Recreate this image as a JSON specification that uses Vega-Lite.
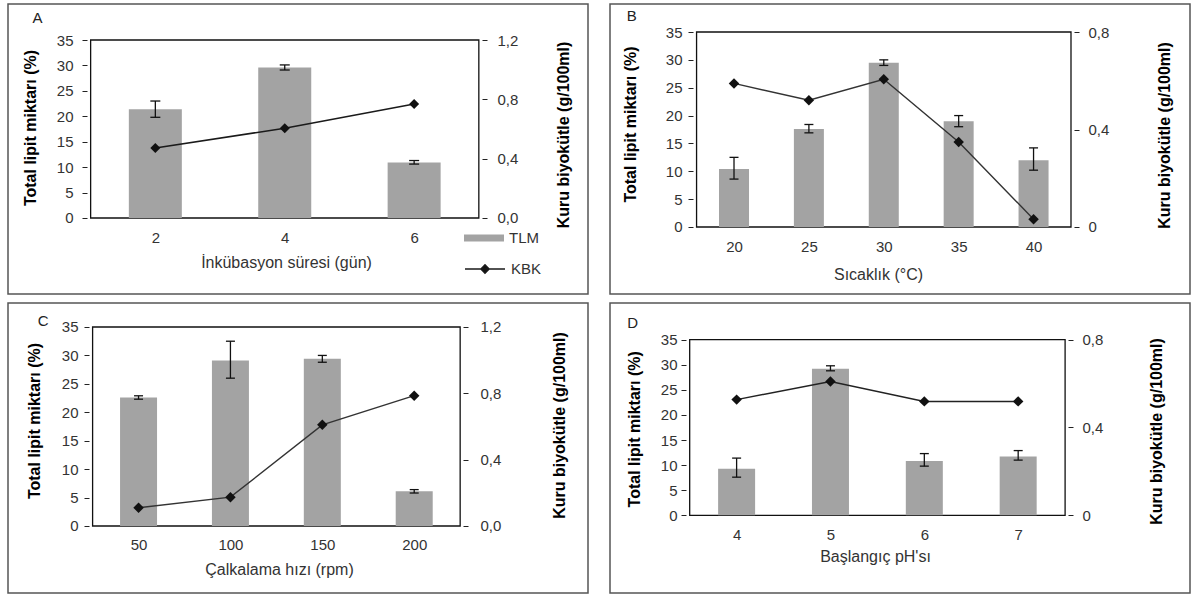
{
  "$schema": "https://vega.github.io/schema/vega-lite/v6.json",
  "padding": {"left": 7, "top": 3, "right": 0, "bottom": 0},
  "background": "white",
  "columns": 2,
  "spacing": {"row": 9, "column": 22},
  "bounds": "flush",
  "config": {
    "font": "Liberation Sans",
    "view": {"stroke": "#555", "strokeWidth": 1.5},
    "axis": {"grid": false, "domain": false, "labelFont": "Liberation Sans", "labelFontSize": 15, "labelColor": "#333", "titleFont": "Liberation Sans", "tickColor": "#222", "tickWidth": 1, "tickSize": 5, "labelOverlap": false},
    "axisX": {"ticks": false, "tickSize": 0, "titleFontSize": 16, "titleFontWeight": "normal", "titleColor": "#333", "titleBaseline": "middle", "titleAlign": "center"},
    "axisY": {"titleFontSize": 16, "titleFontWeight": "bold", "titleColor": "#000", "titleAngle": 270, "titleBaseline": "middle", "titleAlign": "center"}
  },
  "datasets": {
    "A": [
      {"x": 2, "tlm": 21.4, "lo": 19.8, "hi": 23.0, "kbk": 0.472},
      {"x": 4, "tlm": 29.6, "lo": 29.1, "hi": 30.1, "kbk": 0.605},
      {"x": 6, "tlm": 10.9, "lo": 10.6, "hi": 11.3, "kbk": 0.768}
    ],
    "B": [
      {"x": 20, "tlm": 10.4, "lo": 8.6, "hi": 12.5, "kbk": 0.589},
      {"x": 25, "tlm": 17.6, "lo": 16.9, "hi": 18.4, "kbk": 0.52},
      {"x": 30, "tlm": 29.5, "lo": 29.0, "hi": 30.0, "kbk": 0.606},
      {"x": 35, "tlm": 19.0, "lo": 18.0, "hi": 20.0, "kbk": 0.349},
      {"x": 40, "tlm": 12.0, "lo": 10.2, "hi": 14.2, "kbk": 0.032}
    ],
    "C": [
      {"x": 50, "tlm": 22.6, "lo": 22.3, "hi": 22.9, "kbk": 0.11},
      {"x": 100, "tlm": 29.1, "lo": 26.0, "hi": 32.5, "kbk": 0.174},
      {"x": 150, "tlm": 29.4, "lo": 28.8, "hi": 30.0, "kbk": 0.61},
      {"x": 200, "tlm": 6.1, "lo": 5.8, "hi": 6.4, "kbk": 0.786}
    ],
    "D": [
      {"x": 4, "tlm": 9.3, "lo": 7.6, "hi": 11.4, "kbk": 0.527},
      {"x": 5, "tlm": 29.2, "lo": 28.8, "hi": 29.8, "kbk": 0.61},
      {"x": 6, "tlm": 10.8, "lo": 9.8, "hi": 12.3, "kbk": 0.519},
      {"x": 7, "tlm": 11.7, "lo": 11.0, "hi": 12.9, "kbk": 0.519}
    ]
  },
  "concat": [
    {
      "width": 580, "height": 290,
      "data": {"name": "A"},
      "encoding": {"x": {"field": "x", "type": "quantitative", "scale": {"domain": [-0.2, 8.61], "nice": false, "zero": false}, "axis": {"values": [2, 4, 6], "offset": -76, "labelPadding": 12, "title": "İnkübasyon süresi (gün)", "titleX": 278, "titleY": 44.7}}},
      "layer": [
        {"layer": [
          {"transform": [{"filter": "datum.x == 2"}], "mark": {"type": "rect", "fill": "transparent", "stroke": "#111", "strokeWidth": 1.3},
           "encoding": {"x": {"datum": 1, "type": "quantitative"}, "x2": {"datum": 7}, "y": {"datum": 0, "type": "quantitative", "scale": {"domain": [-14.944, 42.079], "nice": false, "zero": false}}, "y2": {"datum": 35}}},
          {"transform": [{"filter": "datum.x == 2"}], "mark": {"type": "text", "text": "A", "fontSize": 15, "color": "#222", "align": "center", "baseline": "middle"},
           "encoding": {"x": {"datum": 0.18, "type": "quantitative"}, "y": {"datum": 39.33, "type": "quantitative", "scale": {"domain": [-14.944, 42.079], "nice": false, "zero": false}}}},
          {"mark": {"type": "bar", "width": 53},
           "encoding": {"y": {"field": "tlm", "type": "quantitative", "scale": {"domain": [-14.944, 42.079], "nice": false, "zero": false}, "axis": {"orient": "left", "values": [0, 5, 10, 15, 20, 25, 30, 35], "offset": -79, "labelPadding": 9, "title": "Total lipit miktarı (%)", "titleX": -57, "titleY": 123.5}},
            "fill": {"datum": "TLM", "type": "nominal", "scale": {"range": ["#a3a3a3"]}, "legend": {"orient": "none", "legendX": 456, "legendY": 214, "title": null, "symbolType": "M-1,-0.18L1,-0.18L1,0.18L-1,0.18Z", "symbolSize": 1600, "symbolStrokeWidth": 0, "labelFontSize": 15, "labelFont": "Liberation Sans", "labelColor": "#333", "labelOffset": 5}}}},
          {"mark": {"type": "rule", "color": "#111", "strokeWidth": 1.3},
           "encoding": {"y": {"field": "lo", "type": "quantitative", "scale": {"domain": [-14.944, 42.079], "nice": false, "zero": false}}, "y2": {"field": "hi"}}},
          {"mark": {"type": "tick", "orient": "horizontal", "size": 10, "thickness": 1.3, "color": "#111", "opacity": 1},
           "encoding": {"y": {"field": "lo", "type": "quantitative", "scale": {"domain": [-14.944, 42.079], "nice": false, "zero": false}}}},
          {"mark": {"type": "tick", "orient": "horizontal", "size": 10, "thickness": 1.3, "color": "#111", "opacity": 1},
           "encoding": {"y": {"field": "hi", "type": "quantitative", "scale": {"domain": [-14.944, 42.079], "nice": false, "zero": false}}}}
        ]},
        {"encoding": {"y": {"field": "kbk", "type": "quantitative", "scale": {"domain": [-0.51237, 1.44271], "nice": false, "zero": false}, "axis": {"orient": "right", "values": [0, 0.4, 0.8, 1.2], "labelExpr": "replace(format(datum.value, '.1f'), '.', ',')", "offset": -106, "labelPadding": 10, "title": "Kuru biyokütle (g/100ml)", "titleX": 81, "titleY": 130.5}}},
         "layer": [
           {"mark": {"type": "line", "strokeWidth": 1.6},
            "encoding": {"stroke": {"datum": "KBK", "type": "nominal", "scale": {"range": ["#1a1a1a"]}, "legend": {"orient": "none", "legendX": 456, "legendY": 244, "title": null, "symbolType": "M-1,0L1,0M-0.2,0L0,-0.2L0.2,0L0,0.2Z", "symbolSize": 1600, "symbolStrokeWidth": 1.6, "symbolFillColor": "#111", "labelFontSize": 15, "labelFont": "Liberation Sans", "labelColor": "#333", "labelOffset": 5, "encode": {"symbols": {"update": {"fill": {"value": "#111"}}}}}}}},
           {"mark": {"type": "point", "shape": "diamond", "filled": true, "size": 100, "color": "#111", "opacity": 1}}
         ]}
      ],
      "resolve": {"scale": {"y": "independent"}}
    },
    {
      "width": 580, "height": 290,
      "data": {"name": "B"},
      "encoding": {"x": {"field": "x", "type": "quantitative", "scale": {"domain": [12.054, 50.112], "nice": false, "zero": false}, "axis": {"values": [20, 25, 30, 35, 40], "offset": -67, "labelPadding": 12, "title": "Sıcaklık (°C)", "titleX": 268, "titleY": 47}}},
      "layer": [
        {"layer": [
          {"transform": [{"filter": "datum.x == 20"}], "mark": {"type": "rect", "fill": "transparent", "stroke": "#111", "strokeWidth": 1.3},
           "encoding": {"x": {"datum": 17.5, "type": "quantitative"}, "x2": {"datum": 42.5}, "y": {"datum": 0, "type": "quantitative", "scale": {"domain": [-12.026, 40.026], "nice": false, "zero": false}}, "y2": {"datum": 35}}},
          {"transform": [{"filter": "datum.x == 20"}], "mark": {"type": "text", "text": "B", "fontSize": 15, "color": "#222", "align": "center", "baseline": "middle"},
           "encoding": {"x": {"datum": 13.17, "type": "quantitative"}, "y": {"datum": 37.87, "type": "quantitative", "scale": {"domain": [-12.026, 40.026], "nice": false, "zero": false}}}},
          {"mark": {"type": "bar", "width": 30, "color": "#a3a3a3"},
           "encoding": {"y": {"field": "tlm", "type": "quantitative", "scale": {"domain": [-12.026, 40.026], "nice": false, "zero": false}, "axis": {"orient": "left", "values": [0, 5, 10, 15, 20, 25, 30, 35], "offset": -83, "labelPadding": 6, "title": "Total lipit miktarı (%)", "titleX": -62.7, "titleY": 120}}}},
          {"mark": {"type": "rule", "color": "#111", "strokeWidth": 1.3},
           "encoding": {"y": {"field": "lo", "type": "quantitative", "scale": {"domain": [-12.026, 40.026], "nice": false, "zero": false}}, "y2": {"field": "hi"}}},
          {"mark": {"type": "tick", "orient": "horizontal", "size": 9, "thickness": 1.3, "color": "#111", "opacity": 1},
           "encoding": {"y": {"field": "lo", "type": "quantitative", "scale": {"domain": [-12.026, 40.026], "nice": false, "zero": false}}}},
          {"mark": {"type": "tick", "orient": "horizontal", "size": 9, "thickness": 1.3, "color": "#111", "opacity": 1},
           "encoding": {"y": {"field": "hi", "type": "quantitative", "scale": {"domain": [-12.026, 40.026], "nice": false, "zero": false}}}}
        ]},
        {"encoding": {"y": {"field": "kbk", "type": "quantitative", "scale": {"domain": [-0.27488, 0.91488], "nice": false, "zero": false}, "axis": {"orient": "right", "values": [0, 0.4, 0.8], "labelExpr": "datum.value == 0 ? '0' : replace(format(datum.value, '.1f'), '.', ',')", "offset": -116, "labelPadding": 9, "title": "Kuru biyokütle (g/100ml)", "titleX": 90, "titleY": 131}}},
         "layer": [
           {"mark": {"type": "line", "strokeWidth": 1.4, "color": "#333"}},
           {"mark": {"type": "point", "shape": "diamond", "filled": true, "size": 110, "color": "#111", "opacity": 1}}
         ]}
      ],
      "resolve": {"scale": {"y": "independent"}}
    },
    {
      "width": 580, "height": 290,
      "data": {"name": "C"},
      "encoding": {"x": {"field": "x", "type": "quantitative", "scale": {"domain": [-18.316, 291.845], "nice": false, "zero": false}, "axis": {"values": [50, 100, 150, 200], "offset": -67, "labelPadding": 11, "title": "Çalkalama hızı (rpm)", "titleX": 271, "titleY": 43.7}}},
      "layer": [
        {"layer": [
          {"transform": [{"filter": "datum.x == 50"}], "mark": {"type": "rect", "fill": "transparent", "stroke": "#111", "strokeWidth": 1.3},
           "encoding": {"x": {"datum": 25, "type": "quantitative"}, "x2": {"datum": 225}, "y": {"datum": 0, "type": "quantitative", "scale": {"domain": [-11.784, 39.221], "nice": false, "zero": false}}, "y2": {"datum": 35}}},
          {"transform": [{"filter": "datum.x == 50"}], "mark": {"type": "text", "text": "C", "fontSize": 15, "color": "#222", "align": "center", "baseline": "middle"},
           "encoding": {"x": {"datum": -1.95, "type": "quantitative"}, "y": {"datum": 36.06, "type": "quantitative", "scale": {"domain": [-11.784, 39.221], "nice": false, "zero": false}}}},
          {"mark": {"type": "bar", "width": 37, "color": "#a3a3a3"},
           "encoding": {"y": {"field": "tlm", "type": "quantitative", "scale": {"domain": [-11.784, 39.221], "nice": false, "zero": false}, "axis": {"orient": "left", "values": [0, 5, 10, 15, 20, 25, 30, 35], "offset": -81, "labelPadding": 6, "title": "Total lipit miktarı (%)", "titleX": -55, "titleY": 117.5}}}},
          {"mark": {"type": "rule", "color": "#111", "strokeWidth": 1.3},
           "encoding": {"y": {"field": "lo", "type": "quantitative", "scale": {"domain": [-11.784, 39.221], "nice": false, "zero": false}}, "y2": {"field": "hi"}}},
          {"mark": {"type": "tick", "orient": "horizontal", "size": 9, "thickness": 1.3, "color": "#111", "opacity": 1},
           "encoding": {"y": {"field": "lo", "type": "quantitative", "scale": {"domain": [-11.784, 39.221], "nice": false, "zero": false}}}},
          {"mark": {"type": "tick", "orient": "horizontal", "size": 9, "thickness": 1.3, "color": "#111", "opacity": 1},
           "encoding": {"y": {"field": "hi", "type": "quantitative", "scale": {"domain": [-11.784, 39.221], "nice": false, "zero": false}}}}
        ]},
        {"encoding": {"y": {"field": "kbk", "type": "quantitative", "scale": {"domain": [-0.40402, 1.34472], "nice": false, "zero": false}, "axis": {"orient": "right", "values": [0, 0.4, 0.8, 1.2], "labelExpr": "replace(format(datum.value, '.1f'), '.', ',')", "offset": -125, "labelPadding": 12, "title": "Kuru biyokütle (g/100ml)", "titleX": 96, "titleY": 122}}},
         "layer": [
           {"mark": {"type": "line", "strokeWidth": 1.4, "color": "#333"}},
           {"mark": {"type": "point", "shape": "diamond", "filled": true, "size": 110, "color": "#111", "opacity": 1}}
         ]}
      ],
      "resolve": {"scale": {"y": "independent"}}
    },
    {
      "width": 580, "height": 290,
      "data": {"name": "D"},
      "encoding": {"x": {"field": "x", "type": "quantitative", "scale": {"domain": [2.7042, 8.7775], "nice": false, "zero": false}, "axis": {"values": [4, 5, 6, 7], "offset": -78, "labelPadding": 12, "title": "Başlangıç pH'sı", "titleX": 265, "titleY": 41}}},
      "layer": [
        {"layer": [
          {"transform": [{"filter": "datum.x == 4"}], "mark": {"type": "rect", "fill": "transparent", "stroke": "#111", "strokeWidth": 1.3},
           "encoding": {"x": {"datum": 3.5, "type": "quantitative"}, "x2": {"datum": 7.5}, "y": {"datum": 0, "type": "quantitative", "scale": {"domain": [-15.487, 42.315], "nice": false, "zero": false}}, "y2": {"datum": 35}}},
          {"transform": [{"filter": "datum.x == 4"}], "mark": {"type": "text", "text": "D", "fontSize": 15, "color": "#222", "align": "center", "baseline": "middle"},
           "encoding": {"x": {"datum": 2.893, "type": "quantitative"}, "y": {"datum": 38.33, "type": "quantitative", "scale": {"domain": [-15.487, 42.315], "nice": false, "zero": false}}}},
          {"mark": {"type": "bar", "width": 37, "color": "#a3a3a3"},
           "encoding": {"y": {"field": "tlm", "type": "quantitative", "scale": {"domain": [-15.487, 42.315], "nice": false, "zero": false}, "axis": {"orient": "left", "values": [0, 5, 10, 15, 20, 25, 30, 35], "offset": -76, "labelPadding": 4, "title": "Total lipit miktarı (%)", "titleX": -52, "titleY": 125.8}}}},
          {"mark": {"type": "rule", "color": "#111", "strokeWidth": 1.3},
           "encoding": {"y": {"field": "lo", "type": "quantitative", "scale": {"domain": [-15.487, 42.315], "nice": false, "zero": false}}, "y2": {"field": "hi"}}},
          {"mark": {"type": "tick", "orient": "horizontal", "size": 9, "thickness": 1.3, "color": "#111", "opacity": 1},
           "encoding": {"y": {"field": "lo", "type": "quantitative", "scale": {"domain": [-15.487, 42.315], "nice": false, "zero": false}}}},
          {"mark": {"type": "tick", "orient": "horizontal", "size": 9, "thickness": 1.3, "color": "#111", "opacity": 1},
           "encoding": {"y": {"field": "hi", "type": "quantitative", "scale": {"domain": [-15.487, 42.315], "nice": false, "zero": false}}}}
        ]},
        {"encoding": {"y": {"field": "kbk", "type": "quantitative", "scale": {"domain": [-0.35399, 0.9672], "nice": false, "zero": false}, "axis": {"orient": "right", "values": [0, 0.4, 0.8], "labelExpr": "datum.value == 0 ? '0' : replace(format(datum.value, '.1f'), '.', ',')", "offset": -122, "labelPadding": 9, "title": "Kuru biyokütle (g/100ml)", "titleX": 88, "titleY": 128}}},
         "layer": [
           {"mark": {"type": "line", "strokeWidth": 1.5, "color": "#222"}},
           {"mark": {"type": "point", "shape": "diamond", "filled": true, "size": 110, "color": "#111", "opacity": 1}}
         ]}
      ],
      "resolve": {"scale": {"y": "independent"}}
    }
  ]
}
